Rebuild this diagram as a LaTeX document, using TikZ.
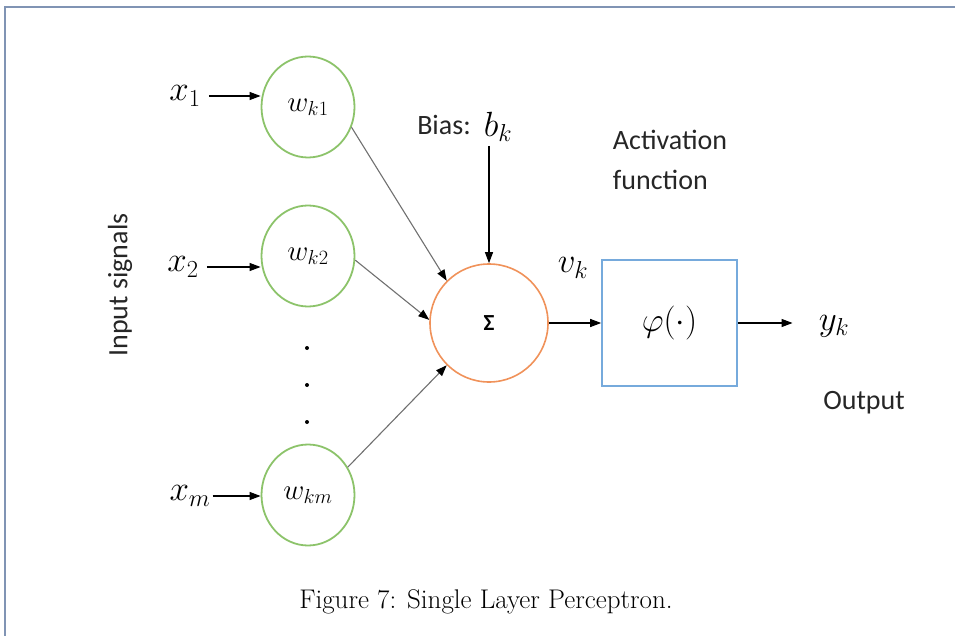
\RequirePackage{fix-cm}
\documentclass[tikz,border=0pt]{standalone}
\usepackage{fontspec}
\newfontfamily\calibri{Carlito}
\usetikzlibrary{arrows.meta,shapes.geometric}

\definecolor{framegray}{HTML}{8094B4}
\definecolor{weightgreen}{HTML}{8CC36A}
\definecolor{sumorange}{HTML}{F0925A}
\definecolor{boxblue}{HTML}{76AADC}
\definecolor{wiregray}{HTML}{707070}

\begin{document}
\begin{tikzpicture}[x=1pt,y=-1pt,
    weight/.style={ellipse,draw=weightgreen,line width=1.8pt,minimum width=93pt,
      minimum height=101pt,inner sep=0pt,font=\fontsize{29}{33}\selectfont},
    summer/.style={circle,draw=sumorange,line width=1.6pt,minimum size=118pt,inner sep=0pt,
      font=\fontsize{23}{27}\selectfont\calibri\bfseries},
    actbox/.style={rectangle,draw=boxblue,line width=1.6pt,minimum width=135pt,
      minimum height=126pt,font=\fontsize{34}{40}\selectfont},
    sans/.style={font=\fontsize{28}{40}\selectfont\calibri,text=black!85},
    mathlbl/.style={font=\fontsize{35}{40}\selectfont,inner sep=2pt},
    sigarrow/.style={-{Triangle[length=11pt,width=8pt]},line width=1.1pt},
    wire/.style={-{Triangle[length=11pt,width=8pt,color=black]},line width=1.1pt,wiregray}]
      \useasboundingbox (0,0) rectangle (955,636);
      \draw[framegray,line width=2pt] (955,7) -- (5,7) -- (5,636);

      %%%%%%%%%%%%%%%%%%%%%%%%%%%%%%%%%%%%%%%%%%%%%%%%%%%%%%%%%%%%%%%%%%%%%%%%%%%
      %%%%  Inputs and weights
      \node[weight] (wk1) at (308,107) {$w_{k1}$};
      \node[weight] (wk2) at (308,256) {$w_{k2}$};
      \node[weight] (wkm) at (308,495) {$w_{km}$};

      \node[mathlbl] (x1) at (185,96) {$x_1$};
      \node[mathlbl] (x2) at (183,267) {$x_2$};
      \node[mathlbl] (xm) at (190,496) {$x_m$};

      \draw[sigarrow] (x1.east) ++(6,0) -- (x1.east -| wk1.west);
      \draw[sigarrow] (x2.east) ++(6,0) -- (x2.east -| wk2.west);
      \draw[sigarrow] (xm.east) -- (xm.east -| wkm.west);

      \foreach \y in {348,385,422}
        {\fill (307,\y) circle (2pt);};

      \node[sans,rotate=90] (insig) at (120,285) {Input signals};

      %%%%%%%%%%%%%%%%%%%%%%%%%%%%%%%%%%%%%%%%%%%%%%%%%%%%%%%%%%%%%%%%%%%%%%%%%%%
      %%%%  Sum and activation
      \node[summer] (sig) at (489,323) {Σ};
      \node[actbox] (act) at (669.5,323) {$\varphi(\cdot)$};

      \draw[wire] (wk1.-25) -- (sig.135);
      \draw[wire] (wk2.-5) -- (sig.177);
      \draw[wire] (wkm.35) -- (sig.225);

      \node[sans] (biaslbl) at (444,125) {Bias:};
      \node[mathlbl] (bk) at (498,127) {$b_k$};
      \draw[sigarrow] (sig |- bk.south) ++(0,2) -- (sig.north);

      \node[mathlbl] (vk) at (573,268) {$v_k$};
      \node[sans,align=left] (actlbl) at (670,160) {Activation\\function};

      \draw[sigarrow] (sig) -- (act);

      \node[mathlbl] (yk) at (834,326) {$y_k$};
      \draw[sigarrow,shorten >=24pt] (act.east) -- (act.east -| yk.west);
      \node[sans] (outlbl) at (864,403) {Output};

      %%%%%%%%%%%%%%%%%%%%%%%%%%%%%%%%%%%%%%%%%%%%%%%%%%%%%%%%%%%%%%%%%%%%%%%%%%%
      %%%%  Caption
      \node[font=\fontsize{27}{32}\selectfont] (caption) at (486,602)
        {Figure 7: Single Layer Perceptron.};
    \end{tikzpicture}
\end{document}
